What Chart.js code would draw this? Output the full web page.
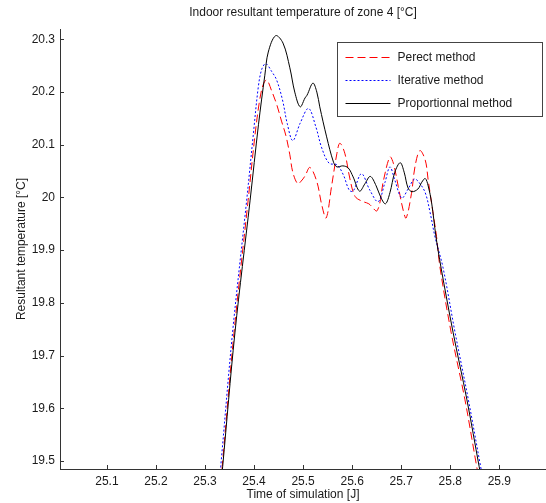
<!DOCTYPE html>
<html>
<head>
<meta charset="utf-8">
<title>Indoor resultant temperature of zone 4</title>
<script src="https://cdn.jsdelivr.net/npm/chart.js@4.4.1/dist/chart.umd.min.js"></script>
<style>
  html, body { margin: 0; padding: 0; background: #fff; }
  #wrap { width: 546px; height: 503px; }
</style>
</head>
<body>
<div id="wrap"><canvas id="chart-area" width="546" height="503"></canvas></div>
<script>
'use strict';

// values (time in days, temperature in degC)
var perfectTime = [25.330, 25.335, 25.359, 25.388, 25.402, 25.412, 25.419, 25.426, 25.436, 25.446,
  25.456, 25.465, 25.473, 25.479, 25.489, 25.496, 25.504, 25.514, 25.528, 25.538,
  25.547, 25.558, 25.569, 25.575, 25.585, 25.596, 25.606, 25.620, 25.634, 25.651,
  25.664, 25.677, 25.684, 25.694, 25.704, 25.710, 25.721, 25.728, 25.738, 25.749,
  25.755, 25.765, 25.772, 25.779, 25.802, 25.830, 25.854, 25.862];
var perfectTemp = [19.440, 19.489, 19.742, 19.995, 20.119, 20.188, 20.215, 20.223, 20.202, 20.177,
  20.145, 20.117, 20.081, 20.048, 20.026, 20.031, 20.041, 20.057, 20.030, 19.986,
  19.961, 20.021, 20.084, 20.103, 20.084, 20.033, 20.002, 19.993, 19.988, 19.975,
  20.033, 20.077, 20.065, 20.021, 19.976, 19.961, 20.008, 20.058, 20.089, 20.071,
  20.033, 19.970, 19.926, 19.868, 19.743, 19.616, 19.489, 19.450];

var iterativeTime = [25.328, 25.332, 25.356, 25.385, 25.398, 25.409, 25.416, 25.424, 25.436, 25.446,
  25.458, 25.468, 25.479, 25.494, 25.511, 25.526, 25.538, 25.553, 25.569, 25.582,
  25.594, 25.602, 25.619, 25.636, 25.653, 25.667, 25.677, 25.687, 25.701, 25.714,
  25.727, 25.736, 25.749, 25.759, 25.769, 25.785, 25.810, 25.837, 25.862, 25.870];
var iterativeTemp = [19.450, 19.489, 19.742, 19.995, 20.115, 20.212, 20.244, 20.254, 20.239, 20.223,
  20.185, 20.139, 20.108, 20.141, 20.169, 20.134, 20.094, 20.065, 20.062, 20.043,
  20.014, 20.012, 20.045, 20.014, 19.992, 20.029, 20.058, 20.033, 19.999, 20.016,
  20.035, 20.029, 20.009, 19.971, 19.925, 19.868, 19.743, 19.616, 19.489, 19.450];

var propTime = [25.332, 25.336, 25.361, 25.392, 25.409, 25.422, 25.429, 25.444, 25.459, 25.473,
  25.483, 25.494, 25.504, 25.508, 25.520, 25.528, 25.534, 25.548, 25.562, 25.569,
  25.581, 25.592, 25.602, 25.615, 25.626, 25.637, 25.649, 25.659, 25.668, 25.677,
  25.687, 25.698, 25.706, 25.714, 25.722, 25.734, 25.742, 25.749, 25.755, 25.762,
  25.771, 25.781, 25.806, 25.834, 25.859, 25.867];
var propTemp = [19.450, 19.489, 19.743, 19.995, 20.138, 20.232, 20.276, 20.307, 20.293, 20.246,
  20.200, 20.172, 20.189, 20.194, 20.217, 20.200, 20.172, 20.115, 20.067, 20.058,
  20.060, 20.056, 20.039, 20.012, 20.026, 20.040, 20.022, 19.999, 19.988, 20.009,
  20.048, 20.066, 20.048, 20.018, 20.011, 20.016, 20.029, 20.036, 20.022, 19.990,
  19.925, 19.868, 19.743, 19.616, 19.489, 19.450];

var seriesNames = ['Perect method', 'Iterative method', 'Proportionnal method'];
var xTicks = [25.1, 25.2, 25.3, 25.4, 25.5, 25.6, 25.7, 25.8, 25.9];
var yTicks = [19.5, 19.6, 19.7, 19.8, 19.9, 20.0, 20.1, 20.2, 20.3];

var FONT = { family: '"Liberation Sans", Arial, Helvetica, sans-serif', size: 12, weight: 'normal' };
var TEXT = '#1a1a1a';
var AXIS = '#333333';

function points(ts, vs) {
  return ts.map(function (t, i) { return { x: t, y: vs[i] }; });
}

var styles = [
  { color: '#ff0000', dash: [8, 4] },
  { color: '#0000ff', dash: [2, 2] },
  { color: '#000000', dash: [] }
];

// matlab style ticks pointing into the plot
var insideTicks = {
  id: 'insideTicks',
  beforeDatasetsDraw: function (chart) {
    var ctx = chart.ctx, area = chart.chartArea;
    var xs = chart.scales.x, ys = chart.scales.y;
    ctx.save();
    ctx.strokeStyle = AXIS;
    ctx.lineWidth = 1;
    ctx.beginPath();
    xTicks.forEach(function (v) {
      var px = Math.round(xs.getPixelForValue(v)) + 0.5;
      ctx.moveTo(px, area.bottom);
      ctx.lineTo(px, area.bottom - 4);
    });
    yTicks.forEach(function (v) {
      var py = Math.round(ys.getPixelForValue(v)) + 0.5;
      ctx.moveTo(area.left, py);
      ctx.lineTo(area.left + 4, py);
    });
    ctx.stroke();
    ctx.restore();
  }
};

// boxed legend in the upper right corner of the axes
var boxLegend = {
  id: 'boxLegend',
  afterDraw: function (chart) {
    var ctx = chart.ctx, area = chart.chartArea;
    var w = 205, h = 74;
    var x = Math.round(area.right - 4 - w) + 0.5;
    var y = Math.round(area.top + 13) + 0.5;
    ctx.save();
    ctx.fillStyle = '#ffffff';
    ctx.fillRect(x, y, w, h);
    ctx.strokeStyle = '#444444';
    ctx.lineWidth = 1;
    ctx.strokeRect(x, y, w, h);
    ctx.font = FONT.size + 'px ' + FONT.family;
    ctx.textBaseline = 'middle';
    seriesNames.forEach(function (name, i) {
      var ry = Math.round(y + 14 + i * 23) + 0.5;
      ctx.beginPath();
      ctx.strokeStyle = styles[i].color;
      ctx.setLineDash(styles[i].dash);
      ctx.moveTo(x + 8, ry);
      ctx.lineTo(x + 53, ry);
      ctx.stroke();
      ctx.setLineDash([]);
      ctx.fillStyle = TEXT;
      ctx.fillText(name, x + 60, ry);
    });
    ctx.restore();
  }
};

var sets = [[perfectTime, perfectTemp], [iterativeTime, iterativeTemp], [propTime, propTemp]];

var ctx = document.getElementById('chart-area').getContext('2d');
window.zoneChart = new Chart(ctx, {
  type: 'line',
  data: {
    datasets: sets.map(function (s, i) {
      return {
        label: seriesNames[i],
        data: points(s[0], s[1]),
        borderColor: styles[i].color,
        borderDash: styles[i].dash,
        borderWidth: 1,
        pointRadius: 0,
        tension: 0.35,
        fill: false,
        order: 3 - i
      };
    })
  },
  options: {
    responsive: false,
    animation: false,
    devicePixelRatio: 1,
    layout: { padding: 0 },
    plugins: {
      legend: { display: false },
      tooltip: { enabled: false },
      title: {
        display: true,
        text: 'Indoor resultant temperature of zone 4 [°C]',
        font: FONT,
        color: TEXT,
        fullSize: false,
        padding: { top: 5, bottom: 9.6 }
      }
    },
    scales: {
      x: {
        type: 'linear',
        min: 25.0044,
        max: 25.9952,
        afterBuildTicks: function (s) { s.ticks = xTicks.map(function (v) { return { value: v }; }); },
        afterFit: function (s) { s.height = 34; },
        ticks: {
          font: FONT, color: TEXT, padding: 5, autoSkip: false, maxRotation: 0,
          callback: function (v) { return v.toFixed(1); }
        },
        grid: { display: true, drawOnChartArea: false, drawTicks: false },
        border: { display: true, color: AXIS, width: 1 },
        title: { display: true, text: 'Time of simulation [J]', font: FONT, color: TEXT, padding: { top: 0, bottom: 1 } }
      },
      y: {
        type: 'linear',
        min: 19.4848,
        max: 20.3197,
        afterBuildTicks: function (s) { s.ticks = yTicks.map(function (v) { return { value: v }; }); },
        afterFit: function (s) { s.width = 60; },
        ticks: {
          font: FONT, color: TEXT, padding: 5, autoSkip: false,
          callback: function (v) { return String(Math.round(v * 10) / 10); }
        },
        grid: { display: true, drawOnChartArea: false, drawTicks: false },
        border: { display: true, color: AXIS, width: 1 },
        title: { display: true, text: 'Resultant temperature [°C]', font: FONT, color: TEXT, padding: { top: 14, bottom: 0 } }
      }
    }
  },
  plugins: [insideTicks, boxLegend]
});
</script>
</body>
</html>
